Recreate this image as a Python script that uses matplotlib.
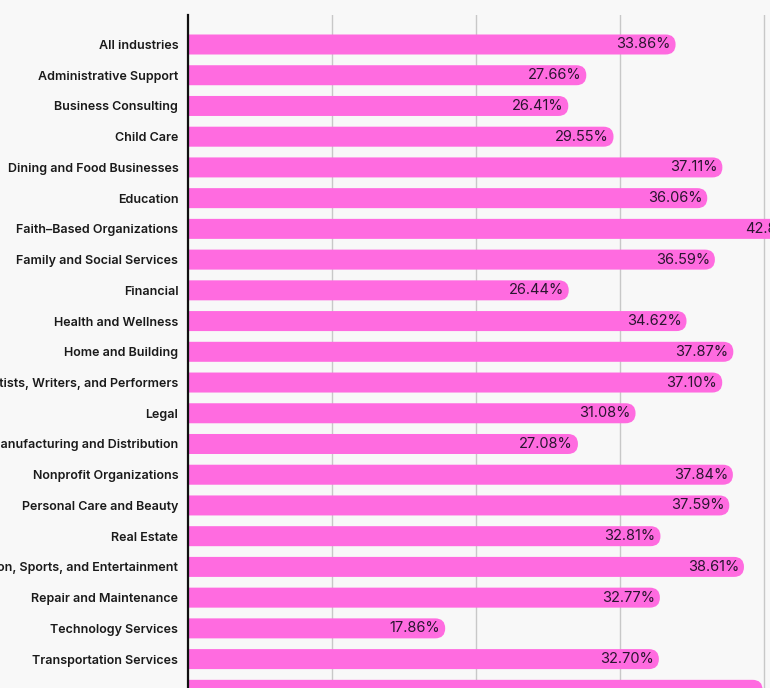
import matplotlib.pyplot as plt
from matplotlib.patches import FancyBboxPatch

industries = [
    'All industries', 'Administrative Support', 'Business Consulting', 'Child Care',
    'Dining and Food Businesses', 'Education', 'Faith\u2013Based Organizations',
    'Family and Social Services', 'Financial', 'Health and Wellness', 'Home and Building',
    'Artists, Writers, and Performers', 'Legal', 'Manufacturing and Distribution',
    'Nonprofit Organizations', 'Personal Care and Beauty', 'Real Estate',
    'Recreation, Sports, and Entertainment', 'Repair and Maintenance',
    'Technology Services', 'Transportation Services', 'Travel and Hospitality',
]
rates = [33.86, 27.66, 26.41, 29.55, 37.11, 36.06, 42.85, 36.59, 26.44, 34.62, 37.87,
         37.10, 31.08, 27.08, 37.84, 37.59, 32.81, 38.61, 32.77, 17.86, 32.70, 39.90]

pink = '#ff6be0'
bg = '#f8f8f8'
plt.rcParams['font.family'] = ['Inter', 'DejaVu Sans']

fig = plt.figure(figsize=(7.7, 6.88), dpi=100)
fig.patch.set_facecolor(bg)
# the axes runs past the bottom of the picture, the chart is cropped there
ax = fig.add_axes([188 / 770, -60 / 688, 582 / 770, 733 / 688])
ax.set_facecolor(bg)

px = 14.4            # pixels per percentage point
row = 30.73          # pixels per row
cap = 10 / px        # radius of the rounded end, in x units
bar_h = 20 / row
y = list(range(len(industries)))
y_top = -29.5 / row
y_bottom = y_top + 733 / row
y_edge = y_top + 673 / row   # row position at the picture's bottom edge

# plain bars first, then swap each for a pill shape (left end hides behind the axis)
for rect in ax.barh(y, rates, height=bar_h, color=pink):
    x0, y0 = rect.get_xy()
    w, h = rect.get_width(), rect.get_height()
    rect.remove()
    ax.add_patch(FancyBboxPatch((x0 - cap, y0), w + cap, h,
                                boxstyle=f'round,pad=0,rounding_size={cap}',
                                mutation_aspect=px / row, fc=pink, ec='none', zorder=3))

# only rows whose centre lies inside the picture get text
shown = [i for i in y if i < y_edge]
for i in shown:
    ax.text(rates[i] - 5 / px, i, f'{rates[i]:.2f}%', ha='right', va='center',
            fontsize=10.5, color='#2a1530', zorder=4)

ax.set_xlim(0, 582 / px)
ax.set_ylim(y_bottom, y_top)
ax.set_yticks(shown)
ax.set_yticklabels([industries[i] for i in shown], fontsize=9, fontweight='semibold',
                   color='#1a1a1a')
ax.tick_params(axis='y', length=0, pad=7)
ax.set_xticks([10, 20, 30, 40])
ax.tick_params(axis='x', length=0, labelbottom=False)
ax.grid(axis='x', color='#c8c8c8', linewidth=1)
ax.set_axisbelow(True)
for s in ['top', 'right', 'bottom']:
    ax.spines[s].set_visible(False)
ax.spines['left'].set_linewidth(1.6)
ax.spines['left'].set_color('#111111')
ax.spines['left'].set_zorder(5)

fig.savefig('out.png', dpi=100, facecolor=bg)
